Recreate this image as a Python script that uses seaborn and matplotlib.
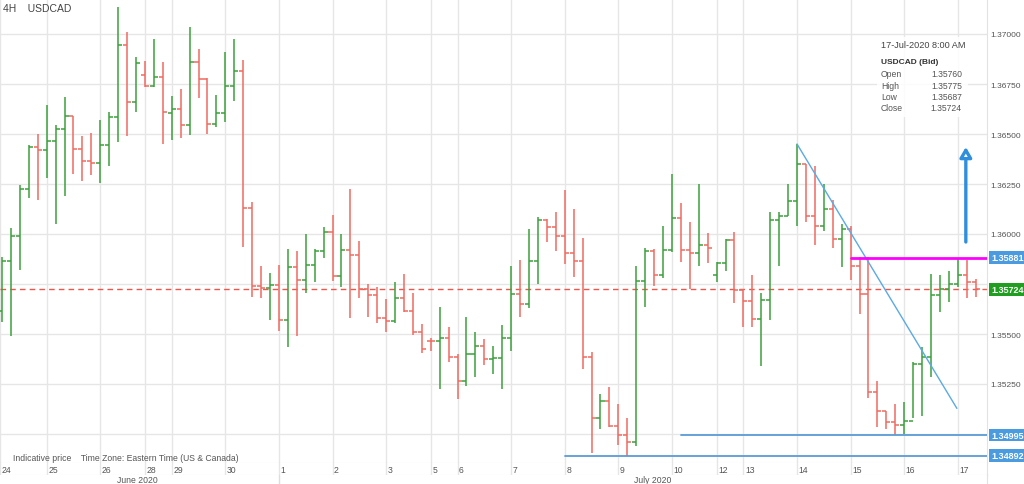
import matplotlib
matplotlib.use("Agg")
import matplotlib.pyplot as plt
import matplotlib.transforms as mtransforms
import matplotlib.patches as mpatches
import seaborn as sns
import pandas as pd
import numpy as np

# 4H OHLC bars, USDCAD (bid)
opens = [1.35613, 1.35863, 1.35992, 1.36223, 1.36435, 1.36418, 1.36463, 1.36523, 1.36588, 1.36427,
         1.36365, 1.36353, 1.36443, 1.36585, 1.36947, 1.36662, 1.36793, 1.36738, 1.36783, 1.36603,
         1.36625, 1.36543, 1.36862, 1.36777, 1.36548, 1.36607, 1.36738, 1.36815, 1.36128, 1.35738,
         1.35732, 1.35745, 1.35572, 1.35833, 1.35772, 1.35845, 1.35913, 1.36012, 1.35788, 1.35918,
         1.35897, 1.35723, 1.35695, 1.35580, 1.35567, 1.35678, 1.35617, 1.35512, 1.35467, 1.35463,
         1.35480, 1.35383, 1.35263, 1.35398, 1.35440, 1.35375, 1.35378, 1.35480, 1.35700, 1.35652,
         1.35865, 1.36072, 1.36033, 1.35988, 1.35905, 1.35865, 1.35387, 1.35078, 1.35167, 1.35038,
         1.34995, 1.34962, 1.35763, 1.35913, 1.35797, 1.35922, 1.36078, 1.35922, 1.35905, 1.35945,
         1.35797, 1.35855, 1.35972, 1.35720, 1.35667, 1.35575, 1.35670, 1.36070, 1.36092, 1.36167,
         1.36350, 1.36092, 1.36042, 1.36125, 1.35975, 1.36025, 1.35842, 1.35700, 1.35212, 1.35117,
         1.35058, 1.35045, 1.35067, 1.35350, 1.35387, 1.35695, 1.35725, 1.35750, 1.35795, 1.35760]
highs = [1.35883, 1.36028, 1.36245, 1.36447, 1.36500, 1.36645, 1.36545, 1.36683, 1.36588, 1.36490,
         1.36505, 1.36570, 1.36610, 1.37133, 1.37012, 1.36887, 1.36863, 1.36973, 1.36860, 1.36692,
         1.36725, 1.37033, 1.36925, 1.36780, 1.36695, 1.36908, 1.36977, 1.36870, 1.36162, 1.35842,
         1.35805, 1.35847, 1.35925, 1.35913, 1.36000, 1.35925, 1.36037, 1.36095, 1.36000, 1.36225,
         1.35963, 1.35750, 1.35737, 1.35675, 1.35762, 1.35798, 1.35705, 1.35550, 1.35478, 1.35637,
         1.35533, 1.35400, 1.35583, 1.35512, 1.35475, 1.35442, 1.35545, 1.35842, 1.35872, 1.36025,
         1.36083, 1.36075, 1.36112, 1.36220, 1.36125, 1.35980, 1.35408, 1.35200, 1.35237, 1.35150,
         1.35080, 1.35842, 1.35930, 1.35925, 1.36042, 1.36300, 1.36155, 1.36058, 1.36250, 1.36005,
         1.35858, 1.35975, 1.36008, 1.35725, 1.35795, 1.35705, 1.36108, 1.36108, 1.36250, 1.36450,
         1.36350, 1.36342, 1.36250, 1.36170, 1.36050, 1.36042, 1.35883, 1.35883, 1.35267, 1.35117,
         1.35150, 1.35162, 1.35358, 1.35433, 1.35800, 1.35795, 1.35817, 1.35881, 1.35870, 1.35775]
lows = [1.35558, 1.35492, 1.35822, 1.36180, 1.36172, 1.36280, 1.36050, 1.36188, 1.36300, 1.36267,
        1.36295, 1.36253, 1.36342, 1.36458, 1.36492, 1.36612, 1.36733, 1.36733, 1.36448, 1.36468,
        1.36478, 1.36497, 1.36680, 1.36502, 1.36533, 1.36562, 1.36663, 1.35933, 1.35683, 1.35678,
        1.35572, 1.35517, 1.35433, 1.35488, 1.35705, 1.35758, 1.35878, 1.35767, 1.35733, 1.35578,
        1.35678, 1.35583, 1.35553, 1.35512, 1.35553, 1.35612, 1.35495, 1.35405, 1.35417, 1.35225,
        1.35362, 1.35175, 1.35242, 1.35287, 1.35345, 1.35300, 1.35225, 1.35413, 1.35583, 1.35628,
        1.35750, 1.35958, 1.35917, 1.35850, 1.35783, 1.35325, 1.34903, 1.35025, 1.35033, 1.34945,
        1.34892, 1.34942, 1.35633, 1.35738, 1.35778, 1.35908, 1.35858, 1.35725, 1.35842, 1.35855,
        1.35758, 1.35817, 1.35653, 1.35533, 1.35537, 1.35342, 1.35572, 1.35838, 1.36092, 1.36042,
        1.36062, 1.35945, 1.36013, 1.35930, 1.35837, 1.35770, 1.35600, 1.35178, 1.35033, 1.35025,
        1.34995, 1.35000, 1.35078, 1.35092, 1.35283, 1.35612, 1.35658, 1.35733, 1.35680, 1.35687]
closes = [1.35863, 1.35992, 1.36223, 1.36435, 1.36418, 1.36463, 1.36523, 1.36588, 1.36427, 1.36365,
          1.36353, 1.36443, 1.36585, 1.36947, 1.36662, 1.36855, 1.36738, 1.36783, 1.36608, 1.36625,
          1.36543, 1.36862, 1.36777, 1.36548, 1.36607, 1.36738, 1.36815, 1.36128, 1.35738, 1.35732,
          1.35745, 1.35572, 1.35833, 1.35772, 1.35845, 1.35913, 1.36012, 1.35788, 1.35918, 1.35897,
          1.35723, 1.35695, 1.35580, 1.35567, 1.35678, 1.35617, 1.35512, 1.35425, 1.35463, 1.35480,
          1.35383, 1.35263, 1.35398, 1.35440, 1.35375, 1.35378, 1.35480, 1.35700, 1.35652, 1.35865,
          1.36072, 1.36033, 1.35988, 1.35905, 1.35865, 1.35387, 1.35078, 1.35167, 1.35038, 1.34995,
          1.34962, 1.35763, 1.35913, 1.35797, 1.35922, 1.36078, 1.35922, 1.35905, 1.35945, 1.35930,
          1.35855, 1.35972, 1.35720, 1.35667, 1.35575, 1.35670, 1.36070, 1.36092, 1.36167, 1.36350,
          1.36092, 1.36042, 1.36125, 1.35975, 1.36025, 1.35842, 1.35700, 1.35212, 1.35117, 1.35058,
          1.35045, 1.35067, 1.35350, 1.35387, 1.35695, 1.35725, 1.35750, 1.35795, 1.35762, 1.35724]

# day boundaries (bar index) and labels
day_pos = [-0.2, 5, 11, 16, 19, 25, 31, 37, 43, 48, 51, 57, 63, 69, 75, 80, 83, 89, 95, 101, 107]
day_labels = ['24', '25', '26', '28', '29', '30', '1', '2', '3', '5', '6', '7', '8', '9',
              '10', '12', '13', '14', '15', '16', '17']
month_pos = [15.2, 72.8]
month_labels = ['June 2020', 'July 2020']
month_split = 31

price_ticks = [1.35000, 1.35250, 1.35500, 1.35750, 1.36000, 1.36250, 1.36500, 1.36750, 1.37000]
# 1.35000 sits fully under the 1.34995 marker in the reference
price_labels = ['', '1.35250', '1.35500', '1.35750', '1.36000', '1.36250', '1.36500', '1.36750', '1.37000']

# drawings
last_price = 1.35724
resistance, resistance_start = 1.35881, 95
support_hi, support_hi_start = 1.34995, 76
support_lo, support_lo_start = 1.34892, 63
trend_x = [89, 106.9]
trend_y = [1.36450, 1.35128]
arrow_x = 107.9
arrow_y = [1.35960, 1.36435]

info_time = '17-Jul-2020 8:00 AM'
info_title = 'USDCAD (Bid)'

GREEN = '#3c9f3c'
RED = '#f06a5f'
BLUE = '#4a9be0'
GRID = '#e6e6e6'

sns.set_style('white')
plt.rcParams['font.family'] = ['Liberation Sans', 'DejaVu Sans']

df = pd.DataFrame({'open': opens, 'high': highs, 'low': lows, 'close': closes})
df['idx'] = np.arange(len(df))
df['color'] = np.where(df['close'] >= df['open'], GREEN, RED)

W, H = 1024, 485
fig = plt.figure(figsize=(W / 100, H / 100), dpi=100)
ax = fig.add_axes([0, 21 / H, 987 / W, 464 / H])
xlim = (-0.224, 110.27)
ax.set_xlim(*xlim)
ax.set_ylim(1.34855, 1.37175)

ax.set_xticks(day_pos)
ax.set_xticklabels([])
ax.set_yticks(price_ticks)
ax.set_yticklabels(price_labels)
ax.yaxis.tick_right()
ax.tick_params(axis='both', length=0)
ax.tick_params(axis='y', labelsize=6, labelcolor='#555555', pad=2.5)
ax.grid(True, color=GRID, lw=1)
for s in ['left', 'top']:
    ax.spines[s].set_visible(False)
ax.spines['right'].set_color('#e2e2e2')
ax.spines['bottom'].set_color('#dddddd')

# OHLC bars
lw = 1.1
ax.vlines(df['idx'], df['low'], df['high'], colors=df['color'], lw=lw, zorder=3)
ax.hlines(df['open'], df['idx'] - 0.45, df['idx'], colors=df['color'], lw=lw, zorder=3)
ax.hlines(df['close'], df['idx'], df['idx'] + 0.45, colors=df['color'], lw=lw, zorder=3)

# current price
ax.axhline(last_price, color='#f05548', lw=1, dashes=(4, 3), zorder=2)

# user drawings
ax.plot(trend_x, trend_y, color='#5aaae6', lw=1, zorder=4)
ax.plot([resistance_start, xlim[1]], [resistance] * 2, color='#ff00ff', lw=2, zorder=4)
ax.plot([support_hi_start, xlim[1]], [support_hi] * 2, color='#5b9bd5', lw=1.3, zorder=4)
ax.plot([support_lo_start, xlim[1]], [support_lo] * 2, color='#5b9bd5', lw=1.3, zorder=4)
ax.annotate('', xy=(arrow_x, arrow_y[1]), xytext=(arrow_x, arrow_y[0]),
            arrowprops=dict(arrowstyle='-|>,head_length=0.6,head_width=0.35',
                            ec='#2f8fdc', fc='white', lw=2.4, shrinkA=0, shrinkB=0),
            zorder=5)

# value boxes on the price scale
tr = mtransforms.blended_transform_factory(ax.transAxes, ax.transData)
for val, bg in [(resistance, BLUE), (last_price, '#1f9e1f'), (support_hi, BLUE), (support_lo, BLUE)]:
    ax.text(1.004, val, f'{val:.5f}', transform=tr, ha='left', va='center', fontsize=6.5,
            color='white', fontweight='bold', clip_on=False, zorder=6,
            bbox=dict(boxstyle='square,pad=0.22', fc=bg, ec='none'))

# date row
axd = fig.add_axes([0, 9 / H, 987 / W, 12 / H], sharex=ax)
axd.set_yticks([])
axd.tick_params(axis='x', length=0, labelbottom=False)
axd.grid(True, axis='x', color=GRID, lw=1)
for s in ['left', 'top']:
    axd.spines[s].set_visible(False)
axd.spines['right'].set_color('#e2e2e2')
axd.spines['bottom'].set_color('#dddddd')
off = mtransforms.ScaledTranslation(1.5 / 100, 0, fig.dpi_scale_trans)
trd = mtransforms.blended_transform_factory(axd.transData, axd.transAxes) + off
for p, lab in zip(day_pos, day_labels):
    axd.text(max(p, xlim[0]), 0.45, lab, transform=trd, ha='left', va='center',
             fontsize=6.2, color='#555555')

# month row
axm = fig.add_axes([0, 0, 987 / W, 9 / H])
axm.set_xlim(*xlim)
axm.set_xticks([])
axm.set_yticks([])
for s in ['left', 'top', 'bottom']:
    axm.spines[s].set_visible(False)
axm.spines['right'].set_color('#e2e2e2')
axm.axvline(month_split, color='#dddddd', lw=1)
for p, lab in zip(month_pos, month_labels):
    axm.text(p, 0.5, lab, transform=mtransforms.blended_transform_factory(axm.transData, axm.transAxes),
             ha='center', va='center', fontsize=6.2, color='#555555')

# header / footer texts
fig.text(3 / W, 1 - 9 / H, '4H    USDCAD', fontsize=7.5, color='#444444', va='center')
fig.text(13 / W, 1 - 459 / H, 'Indicative price    Time Zone: Eastern Time (US & Canada)',
         fontsize=6.2, color='#555555', va='center')

# info box
fig.add_artist(mpatches.Rectangle((877 / W, 1 - 118 / H), 91 / W, 80 / H, transform=fig.transFigure,
                                  fc='white', ec='none', alpha=0.88))
fig.text(881 / W, 1 - 45 / H, info_time, fontsize=6.6, color='#444444', va='center')
fig.text(881 / W, 1 - 62 / H, info_title, fontsize=6, color='#333333', va='center', fontweight='bold')
info_rows = [('Open', opens[-1]), ('High', highs[-1]), ('Low', lows[-1]), ('Close', closes[-1])]
for k, (lab, val) in enumerate(info_rows):
    yy = 1 - (74.7 + 11.4 * k) / H
    fig.text(881 / W, yy, lab, fontsize=6.2, color='#555555', va='center')
    fig.text(962 / W, yy, f'{val:.5f}', fontsize=6.2, color='#555555', va='center', ha='right')

fig.savefig('out.png', dpi=100)
